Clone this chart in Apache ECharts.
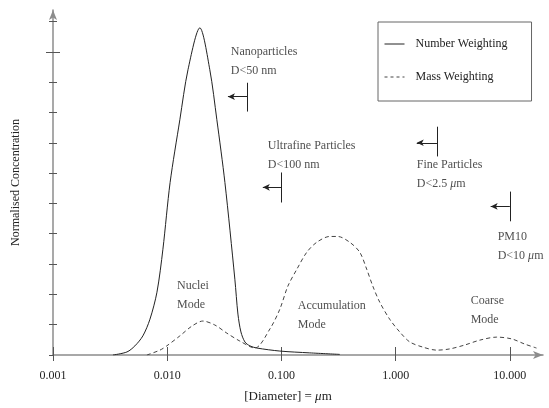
<!DOCTYPE html>
<html>
<head>
<meta charset="utf-8">
<script src="https://cdn.jsdelivr.net/npm/echarts@6/dist/echarts.min.js"></script>
<style>
    html, body { margin: 0; padding: 0; background: #fff; }
    #chart { width: 549px; height: 408px; }
</style>
</head>
<body>
<div id="chart"></div>
<script>
// diameter (um) and normalised concentration
const numberX = [0.00335, 0.00444, 0.00521, 0.00612, 0.00706, 0.00813, 0.00917, 0.0106, 0.0129, 0.0152, 0.0193, 0.0236, 0.0272, 0.032, 0.0391, 0.0416, 0.0442, 0.0479, 0.053, 0.061, 0.0968, 0.177, 0.324]
const numberY = [0, 0.1, 0.3, 0.63, 1.18, 2.07, 3.49, 5.69, 7.76, 9.41, 10.79, 9.41, 7.76, 5.69, 2.5, 1.35, 0.76, 0.43, 0.3, 0.23, 0.13, 0.07, 0.02]
const massX = [0.00664, 0.00863, 0.0099, 0.0129, 0.0164, 0.0205, 0.0261, 0.0333, 0.0432, 0.0585, 0.0793, 0.0968, 0.1138, 0.1365, 0.1667, 0.204, 0.265, 0.311, 0.396, 0.485, 0.558, 0.631, 0.726, 0.887, 1.086, 1.33, 1.73, 2.29, 2.97, 4.03, 5.45, 7.67, 10.4, 13.5, 17.1]
const massY = [0, 0.16, 0.3, 0.63, 0.95, 1.12, 0.99, 0.72, 0.46, 0.23, 0.86, 1.51, 2.27, 2.83, 3.39, 3.72, 3.91, 3.91, 3.72, 3.39, 2.83, 2.27, 1.74, 1.18, 0.76, 0.43, 0.26, 0.16, 0.2, 0.33, 0.49, 0.59, 0.53, 0.36, 0.23]
const xTicks = [0.001, 0.01, 0.1, 1, 10]
const yTicks = [1, 2, 3, 4, 5, 6, 7, 8, 9, 10, 11]
const yTicksOut = [0, 1, 2, 3, 4, 5, 6, 7, 8, 9, 10, 11]

// size cut-offs: where the bar stands, its height range, and where the arrow points
const cutX = [0.05, 0.1, 2.3, 10]
const cutYLow = [8.03, 5.03, 6.55, 4.41]
const cutYHigh = [8.98, 6.02, 7.53, 5.39]
const cutArrowY = [8.52, 5.53, 7.0, 4.9]
const cutArrowTo = [0.034, 0.0687, 1.53, 6.79]

// text notes, anchored at their left edge
const noteText = ['Nanoparticles\nD<50 nm', 'Ultrafine Particles\nD<100 nm', 'Fine Particles\nD<2.5 {i|μ}m',
    'PM10\nD<10 {i|μ}m', 'Nuclei\nMode', 'Accumulation\nMode', 'Coarse\nMode']
const noteX = [0.036, 0.076, 1.53, 7.82, 0.01217, 0.139, 4.54]
const noteY = [9.69, 6.58, 5.97, 3.6, 1.96, 1.32, 1.46]

const font = 'Liberation Serif'
const axisGray = '#8c8c8c'
const tickGray = '#555'

const cutLines = []
cutX.forEach((x, i) => {
    cutLines.push([{ coord: [x, cutYLow[i]], symbol: 'none' }, { coord: [x, cutYHigh[i]], symbol: 'none' }])
    cutLines.push([{ coord: [x, cutArrowY[i]], symbol: 'none' }, { coord: [cutArrowTo[i], cutArrowY[i]], symbol: 'arrow' }])
})

function yAxisCopy(inside, length, values, main) {
    return {
        type: 'value',
        min: 0,
        max: 11.38,
        interval: 1,
        position: 'left',
        axisLine: main ? {
            show: true, symbol: ['none', 'arrow'], symbolSize: [6, 10],
            lineStyle: { color: axisGray, width: 1.5 }
        } : { show: false },
        axisTick: { show: true, inside: inside, length: length, customValues: values, lineStyle: { color: tickGray } },
        axisLabel: { show: false },
        splitLine: { show: false },
        name: main ? 'Normalised Concentration' : '',
        nameLocation: 'middle',
        nameGap: 31,
        nameTextStyle: { fontFamily: font, fontSize: 12, color: '#222' }
    }
}

function xAxisCopy(inside, length, main) {
    return {
        type: 'log',
        logBase: 10,
        min: 0.001,
        max: 19.5,
        position: 'bottom',
        axisLine: main ? {
            show: true, symbol: ['none', 'arrow'], symbolSize: [6, 10],
            lineStyle: { color: axisGray, width: 1.5 }
        } : { show: false },
        axisTick: { show: true, inside: inside, length: length, customValues: xTicks, lineStyle: { color: tickGray } },
        axisLabel: main ? {
            show: true, customValues: xTicks, margin: 15,
            fontFamily: font, fontSize: 12, color: '#222',
            formatter: v => Number(v).toFixed(3)
        } : { show: false },
        splitLine: { show: false },
        name: main ? '[Diameter] = {i|μ}m' : '',
        nameLocation: 'middle',
        nameGap: 35,
        nameTextStyle: {
            fontFamily: font, fontSize: 13, color: '#222', padding: [0, 20, 0, 0],
            rich: { i: { fontFamily: font, fontSize: 13, fontStyle: 'italic', color: '#222' } }
        }
    }
}

const chart = echarts.init(document.getElementById('chart'))
chart.setOption({
    animation: false,
    grid: { left: 53, right: 6, top: 10, bottom: 52 },
    legend: {
        data: [
            { name: 'Number Weighting', lineStyle: { type: 'solid', color: '#222', width: 1 } },
            { name: 'Mass Weighting', lineStyle: { type: [3, 3], color: '#444', width: 1 } }
        ],
        orient: 'vertical',
        left: 378,
        top: 22,
        itemWidth: 20,
        itemHeight: 14,
        itemGap: 21,
        padding: [16, 24, 18, 6],
        borderColor: '#666',
        borderWidth: 1,
        selectedMode: false,
        itemStyle: { color: 'rgba(0,0,0,0)', borderWidth: 0, opacity: 0 },
        textStyle: { fontFamily: font, fontSize: 12, color: '#222', padding: [0, 0, 0, 6] }
    },
    xAxis: [xAxisCopy(false, 6, true), xAxisCopy(true, 8, false)],
    yAxis: [
        yAxisCopy(false, 4, yTicksOut, true),
        yAxisCopy(true, 4, yTicks, false),
        yAxisCopy(false, 7, [10], false),
        yAxisCopy(true, 7, [10], false)
    ],
    series: [
        {
            name: 'Number Weighting',
            type: 'line',
            data: numberX.map((x, i) => [x, numberY[i]]),
            smooth: 0.3,
            symbol: 'none',
            lineStyle: { color: '#222', width: 1 },
            itemStyle: { color: '#222' }
        },
        {
            name: 'Mass Weighting',
            type: 'line',
            data: massX.map((x, i) => [x, massY[i]]),
            smooth: 0.3,
            symbol: 'none',
            lineStyle: { color: '#444', width: 1, type: [4, 3] },
            itemStyle: { color: '#444' }
        },
        {
            name: 'notes',
            type: 'scatter',
            symbolSize: 0,
            silent: true,
            data: noteX.map((x, i) => ({ value: [x, noteY[i]], name: noteText[i] })),
            label: {
                show: true,
                position: 'right',
                distance: 0,
                formatter: p => p.name,
                fontFamily: font,
                fontSize: 12,
                lineHeight: 19,
                color: '#222',
                rich: { i: { fontFamily: font, fontSize: 12, fontStyle: 'italic', color: '#222', lineHeight: 19 } }
            },
            markLine: {
                silent: true,
                symbolSize: [5, 7],
                label: { show: false },
                lineStyle: { color: '#222', width: 1, type: 'solid' },
                data: cutLines
            }
        }
    ]
})
</script>
</body>
</html>
